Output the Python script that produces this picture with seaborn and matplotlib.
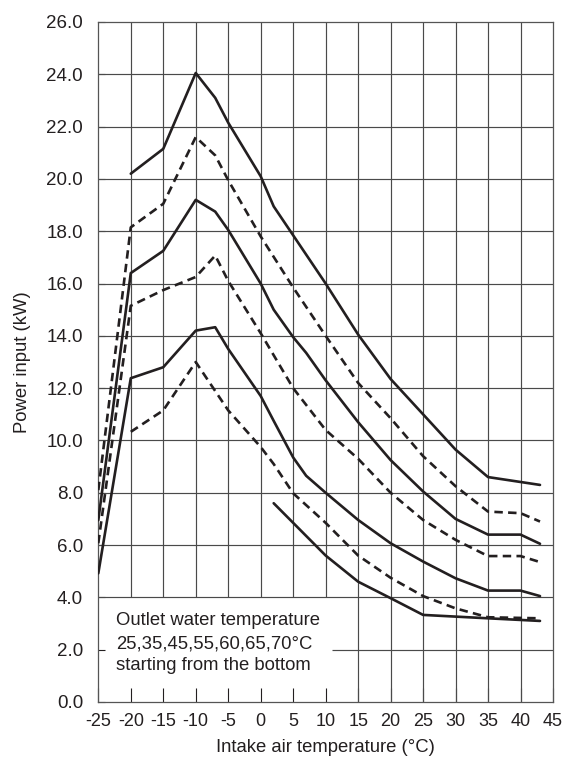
import matplotlib
matplotlib.use("Agg")
import matplotlib.pyplot as plt
import seaborn as sns
import pandas as pd

# ---- data ----
x_ticks = [-25, -20, -15, -10, -5, 0, 5, 10, 15, 20, 25, 30, 35, 40, 45]
y_ticks = [0, 2, 4, 6, 8, 10, 12, 14, 16, 18, 20, 22, 24, 26]
y_tick_labels = ["0.0", "2.0", "4.0", "6.0", "8.0", "10.0", "12.0", "14.0",
                 "16.0", "18.0", "20.0", "22.0", "24.0", "26.0"]

x_70 = [-20, -15, -10, -7, -5, 0, 2, 10, 15, 20, 25, 30, 35, 43]
y_70 = [20.2, 21.15, 24.05, 23.1, 22.15, 20.1, 18.95, 16.0, 14.05, 12.35, 11.0, 9.65, 8.6, 8.3]

x_65 = [-25, -20, -15, -10, -7, -5, 0, 5, 10, 15, 20, 25, 30, 35, 40, 43]
y_65 = [8.1, 18.15, 19.05, 21.6, 20.9, 19.95, 17.8, 15.85, 14.0, 12.2, 10.85, 9.4, 8.25, 7.28, 7.22, 6.9]

x_60 = [-25, -20, -15, -10, -7, -5, 0, 2, 5, 7, 10, 15, 20, 25, 30, 35, 40, 43]
y_60 = [6.95, 16.4, 17.25, 19.2, 18.75, 18.05, 16.0, 15.0, 13.95, 13.35, 12.3, 10.7, 9.25, 8.05, 7.0, 6.4, 6.4, 6.05]

x_55 = [-25, -20, -15, -10, -7, -5, 0, 5, 10, 15, 20, 25, 30, 35, 40, 43]
y_55 = [6.07, 15.15, 15.75, 16.25, 17.07, 16.1, 14.1, 12.0, 10.4, 9.3, 8.0, 6.96, 6.2, 5.58, 5.58, 5.35]

x_45 = [-25, -20, -15, -10, -7, -5, 0, 2, 5, 7, 10, 15, 20, 25, 30, 35, 40, 43]
y_45 = [4.92, 12.38, 12.8, 14.2, 14.33, 13.5, 11.7, 10.75, 9.35, 8.65, 8.0, 6.96, 6.07, 5.37, 4.73, 4.26, 4.26, 4.05]

x_35 = [-20, -15, -10, -5, 0, 2, 5, 10, 15, 20, 25, 30, 35, 43]
y_35 = [10.33, 11.15, 13.0, 11.15, 9.75, 9.1, 7.98, 6.85, 5.6, 4.75, 4.05, 3.58, 3.24, 3.2]

x_25 = [2, 5, 10, 15, 20, 25, 35, 43]
y_25 = [7.6, 6.85, 5.6, 4.6, 3.97, 3.33, 3.2, 3.1]

series_names = ["25", "35", "45", "55", "60", "65", "70"]
series_x = [x_25, x_35, x_45, x_55, x_60, x_65, x_70]
series_y = [y_25, y_35, y_45, y_55, y_60, y_65, y_70]
series_dashed = [False, True, False, True, False, True, False]

legend_lines = ["Outlet water temperature",
                "25,35,45,55,60,65,70\u00b0C",
                "starting from the bottom"]

# ---- style ----
sns.set_style("white")
plt.rcParams["font.family"] = ["Liberation Sans", "DejaVu Sans"]

INK = "#231f20"
GRID = "#4a4a4a"

fig = plt.figure(figsize=(5.64, 7.58), dpi=100)
ax = fig.add_axes([98.3 / 564, 1 - 702 / 758, (553 - 98.3) / 564, (702 - 22) / 758])
ax.set_facecolor("white")

ax.set_xlim(-25, 45)
ax.set_ylim(0, 26)

# grid (the lower-left legend box leaves a blank area)
box_right = 11
for xv in x_ticks[1:-1]:
    y0 = 4 if xv <= 10 else 0
    ax.vlines(xv, y0, 26, color=GRID, linewidth=0.85, zorder=1)
for yv in y_ticks[1:-1]:
    x0 = box_right if yv == 2 else -25
    ax.hlines(yv, x0, 45, color=GRID, linewidth=0.85, zorder=1)

# curves
for name, xs, ys, dashed in zip(series_names, series_x, series_y, series_dashed):
    df = pd.DataFrame({"x": xs, "y": ys})
    ls = (0, (3.2, 2.0)) if dashed else "-"
    sns.lineplot(data=df, x="x", y="y", ax=ax, color=INK, linewidth=1.9,
                 linestyle=ls, sort=False, estimator=None, zorder=3)

# legend text in the box
for txt, yb in zip(legend_lines, [2.94, 2.06, 1.22]):
    ax.text(-22.3, yb, txt, fontsize=13.3, color=INK, va="baseline", ha="left", zorder=4)

# ticks
ax.set_xticks(x_ticks)
ax.set_xticklabels([str(v) for v in x_ticks])
ax.set_yticks(y_ticks)
ax.set_yticklabels(y_tick_labels)
ax.tick_params(axis="x", direction="in", length=10, width=0.8, color=INK,
               pad=8, labelsize=13, labelcolor=INK, top=False, bottom=True)
ax.tick_params(axis="y", direction="in", length=5, width=0.8, color=INK,
               pad=11, labelsize=13.5, labelcolor=INK, left=True, right=False)

for sp in ax.spines.values():
    sp.set_visible(True)
    sp.set_color("#555555")
    sp.set_linewidth(0.9)

ax.set_xlabel("Intake air temperature (\u00b0C)", fontsize=13.3, color=INK)
ax.set_ylabel("Power input (kW)", fontsize=13.3, color=INK)
ax.xaxis.set_label_coords(0.5, -0.055)
ax.yaxis.set_label_coords(-0.148, 0.5)

fig.savefig("out.png", dpi=100, facecolor="white")
